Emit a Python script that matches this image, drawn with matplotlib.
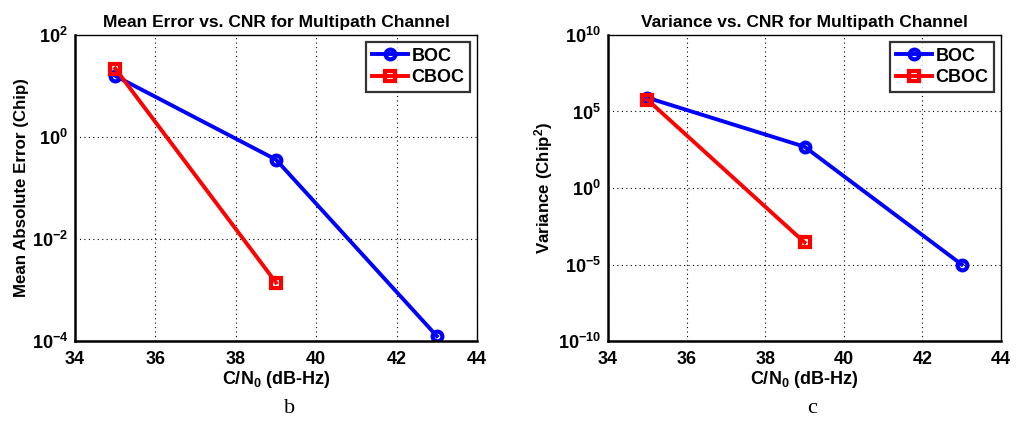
import matplotlib
matplotlib.use("Agg")
import matplotlib.pyplot as plt

cnr_boc = [35, 39, 43]
cnr_cboc = [35, 39]
mae_boc = [15.8, 0.36, 1.25e-4]
mae_cboc = [22.0, 1.4e-3]
var_boc = [8e5, 500, 1e-5]
var_cboc = [6e5, 2.8e-4]
xticks = [34, 36, 38, 40, 42, 44]

plt.rcParams['font.family'] = ['Liberation Sans', 'DejaVu Sans']
plt.rcParams['font.weight'] = 'bold'
plt.rcParams['mathtext.default'] = 'bf'
plt.rcParams['mathtext.fontset'] = 'custom'
plt.rcParams['mathtext.bf'] = 'Liberation Sans:bold'
plt.rcParams['mathtext.rm'] = 'Liberation Sans:bold'

fig = plt.figure(figsize=(10.16, 4.23), dpi=100)
ax1 = fig.add_axes([75/1016, 82/423, 402/1016, 306/423])
ax2 = fig.add_axes([608/1016, 82/423, 393/1016, 306/423])

FS = 13

def style(ax, ylim, yticks, ylabels):
    ax.set_yscale('log')
    ax.set_xlim(34, 44)
    ax.set_ylim(*ylim)
    ax.set_xticks(xticks)
    ax.set_xticklabels([str(t) for t in xticks], fontsize=FS, fontweight='bold')
    ax.set_yticks(yticks)
    ax.set_yticklabels(ylabels, fontsize=FS, fontweight='bold')
    ax.minorticks_off()
    ax.tick_params(axis='x', length=0, pad=7)
    ax.tick_params(axis='y', length=0, pad=5)
    ax.grid(True, which='major', linestyle=(0, (1, 3)), color='black', linewidth=0.8)
    for s in ax.spines.values():
        s.set_linewidth(1.0)
        s.set_color('black')
    ax.spines['bottom'].set_linewidth(1.8)
    ax.spines['left'].set_linewidth(1.8)
    ax.set_xlabel('C/N$_0$ (dB-Hz)', fontsize=FS, fontweight='bold', labelpad=1)

def sup(e):
    return '10$^{\\mathregular{%s}}$' % e

ax1.plot(cnr_boc, mae_boc, '-o', color='#0000ff', lw=2.8, ms=7, mfc='none', mew=3, label='BOC')
ax1.plot(cnr_cboc, mae_cboc, '-s', color='#ff0000', lw=2.8, ms=7, mfc='none', mew=3, label='CBOC')
style(ax1, (1e-4, 1e2), [1e-4, 1e-2, 1e0, 1e2],
      [sup('-4'), sup('-2'), sup('0'), sup('2')])
ax1.set_title('Mean Error vs. CNR for Multipath Channel', fontsize=12.5, fontweight='bold', pad=6)
ax1.set_ylabel('Mean Absolute Error (Chip)', fontsize=12.2, fontweight='bold', labelpad=2)

ax2.plot(cnr_boc, var_boc, '-o', color='#0000ff', lw=2.8, ms=7, mfc='none', mew=3, label='BOC')
ax2.plot(cnr_cboc, var_cboc, '-s', color='#ff0000', lw=2.8, ms=7, mfc='none', mew=3, label='CBOC')
style(ax2, (1e-10, 1e10), [1e-10, 1e-5, 1e0, 1e5, 1e10],
      [sup('-10'), sup('-5'), sup('0'), sup('5'), sup('10')])
ax2.set_title('Variance vs. CNR for Multipath Channel', fontsize=12.5, fontweight='bold', pad=6)
ax2.set_ylabel('Variance (Chip$^2$)', fontsize=12.2, fontweight='bold', labelpad=2)

for ax in (ax1, ax2):
    leg = ax.legend(loc='upper right', fontsize=FS, frameon=True, fancybox=False,
                    edgecolor='black', borderaxespad=0.4, handlelength=2.0,
                    borderpad=0.3, labelspacing=0.25, handletextpad=0.2)
    leg.get_frame().set_linewidth(1.6)
    for t in leg.get_texts():
        t.set_fontweight('bold')

fig.text(290/1016, 1 - 408/423, 'b', fontsize=16, family='Liberation Serif', fontweight='normal', ha='center', va='center')
fig.text(812/1016, 1 - 408/423, 'c', fontsize=16, family='Liberation Serif', fontweight='normal', ha='center', va='center')

fig.savefig('out.png', dpi=100)
